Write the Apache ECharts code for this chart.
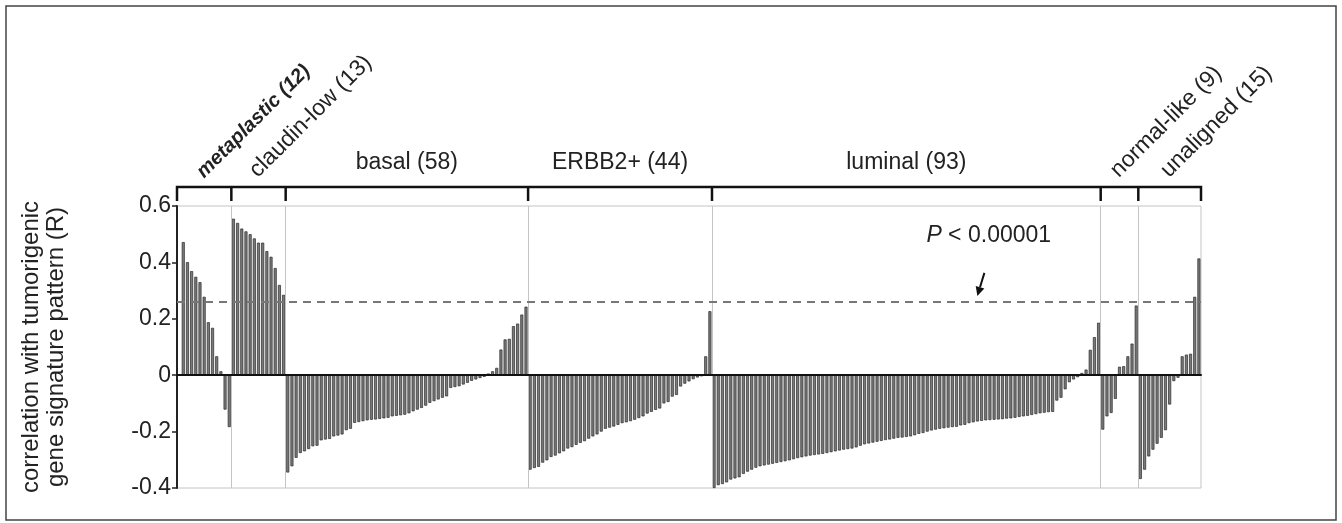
<!DOCTYPE html>
<html>
<head>
<meta charset="utf-8">
<script src="https://cdn.jsdelivr.net/npm/echarts@6/dist/echarts.min.js"></script>
<style>
  html, body { margin: 0; padding: 0; background: #fff; }
  #chart { width: 1342px; height: 523px; }
</style>
</head>
<body>
<div id="chart"></div>
<script>
// group labels, in order along the x axis
const groupNames = ['metaplastic (12)', 'claudin-low (13)', 'basal (58)', 'ERBB2+ (44)', 'luminal (93)', 'normal-like (9)', 'unaligned (15)'];

// correlation (R) per sample, sorted inside each group as in the figure
// (metaplastic starts with one empty slot)
const metaplastic = [null, 0.472, 0.401, 0.369, 0.349, 0.33, 0.278, 0.188, 0.168, 0.067, 0.014, -0.122, -0.184];
const claudinLow = [0.555, 0.54, 0.52, 0.51, 0.5, 0.485, 0.47, 0.47, 0.44, 0.42, 0.38, 0.32, 0.285];
const basal = [-0.345, -0.323, -0.293, -0.276, -0.27, -0.262, -0.252, -0.25, -0.231, -0.228, -0.226, -0.217, -0.214, -0.21, -0.195, -0.19,
  -0.169, -0.166, -0.163, -0.16, -0.158, -0.157, -0.155, -0.153, -0.151, -0.146, -0.144, -0.142, -0.14, -0.135,
  -0.128, -0.122, -0.116, -0.108, -0.098, -0.092, -0.086, -0.08, -0.075, -0.045, -0.042, -0.039, -0.033, -0.027,
  -0.02, -0.015, -0.01, -0.006, 0.006, 0.014, 0.026, 0.091, 0.127, 0.129, 0.174, 0.183, 0.215, 0.243];
const erbb2 = [-0.335, -0.329, -0.325, -0.31, -0.302, -0.29, -0.285, -0.277, -0.27, -0.26, -0.255, -0.247, -0.24, -0.234,
  -0.225, -0.217, -0.21, -0.2, -0.19, -0.186, -0.182, -0.176, -0.17, -0.167, -0.163, -0.158, -0.152, -0.146,
  -0.136, -0.13, -0.123, -0.118, -0.1, -0.095, -0.076, -0.07, -0.04, -0.03, -0.022, -0.014, -0.008, -0.004, 0.067, 0.227];
const luminal = [-0.4, -0.39, -0.386, -0.38, -0.37, -0.366, -0.362, -0.35, -0.342, -0.335, -0.328, -0.323, -0.32, -0.317,
  -0.314, -0.311, -0.308, -0.305, -0.302, -0.298, -0.294, -0.291, -0.288, -0.285, -0.283, -0.281, -0.279, -0.276,
  -0.273, -0.27, -0.267, -0.264, -0.262, -0.26, -0.256, -0.25, -0.245, -0.242, -0.239, -0.236, -0.233, -0.23,
  -0.228, -0.225, -0.222, -0.221, -0.219, -0.217, -0.213, -0.208, -0.205, -0.2, -0.196, -0.193, -0.19, -0.188,
  -0.186, -0.184, -0.183, -0.178, -0.176, -0.17, -0.167, -0.164, -0.162, -0.16, -0.159, -0.158, -0.157, -0.156,
  -0.154, -0.153, -0.151, -0.148, -0.146, -0.144, -0.141, -0.138, -0.135, -0.133, -0.131, -0.13, -0.09, -0.08,
  -0.05, -0.025, -0.015, -0.007, 0.008, 0.02, 0.09, 0.135, 0.186];
const normalLike = [-0.193, -0.146, -0.134, -0.084, 0.03, 0.032, 0.067, 0.112, 0.247];
const unaligned = [-0.368, -0.335, -0.288, -0.264, -0.243, -0.222, -0.195, -0.104, -0.021, -0.009, 0.067, 0.073, 0.076, 0.278, 0.414];

const yTicks = [-0.4, -0.2, 0, 0.2, 0.4, 0.6];
const threshold = 0.26;

const groups = [metaplastic, claudinLow, basal, erbb2, luminal, normalLike, unaligned];

// build bar points (x = slot centre) and group boundaries
const barData = [];
const bounds = [0];
let slot = 0;
groups.forEach(vals => {
  vals.forEach(v => {
    if (v !== null) barData.push([slot + 0.5, v]);
    slot++;
  });
  bounds.push(slot);
});

const font = '"Liberation Sans", Arial, sans-serif';
const chart = echarts.init(document.getElementById('chart'));

chart.setOption({
  animation: false,
  grid: { left: 177, right: 141, top: 206, bottom: 35, show: true, borderColor: '#c4c4c4', borderWidth: 1 },
  xAxis: {
    type: 'value', min: 0, max: slot, z: 5,
    axisLine: { onZero: true, lineStyle: { color: '#111', width: 2 } },
    axisTick: { show: false }, axisLabel: { show: false }, splitLine: { show: false }
  },
  yAxis: {
    type: 'value', min: yTicks[0], max: yTicks[yTicks.length - 1], interval: 0.2,
    axisLine: { show: true, lineStyle: { color: '#222', width: 2 } },
    axisTick: { show: true, length: 5, lineStyle: { color: '#222', width: 1.5 } },
    splitLine: { show: false },
    axisLabel: {
      fontSize: 23, color: '#222', fontFamily: font, margin: 6,
      formatter: v => (Math.abs(v) < 1e-9 ? '0' : v.toFixed(1))
    },
    name: 'correlation with tumorigenic\ngene signature pattern (R)',
    nameLocation: 'middle', nameRotate: 90, nameGap: 108,
    nameTextStyle: { fontSize: 24, color: '#222', fontFamily: font, lineHeight: 25 }
  },
  series: [{
    type: 'bar',
    data: barData,
    barWidth: 3,
    itemStyle: { color: '#7a7a7a', borderColor: '#2a2a2a', borderWidth: 0.7 },
    markLine: {
      silent: true, symbol: 'none', label: { show: false },
      data: bounds.slice(1, -1).map(b => ({ xAxis: b, lineStyle: { color: '#c4c4c4', width: 1, type: 'solid' } }))
        .concat([{ yAxis: threshold, lineStyle: { color: '#777', width: 2, type: [8, 6] } }])
    }
  }]
});

// bracket, group labels and annotation placed via the axes
const px = (x, y) => chart.convertToPixel({ gridIndex: 0 }, [x, y]);
const bracketY = 187, tickBottom = 201, labelY = 163;
const elements = [];

const bx = bounds.map(b => px(b, 0)[0]);
elements.push({
  type: 'polyline', shape: { points: [[bx[0], tickBottom], [bx[0], bracketY], [bx[bx.length - 1], bracketY], [bx[bx.length - 1], tickBottom]] },
  style: { stroke: '#111', lineWidth: 2.5, fill: null }
});
bx.slice(1, -1).forEach(x => elements.push({
  type: 'line', shape: { x1: x, y1: bracketY, x2: x, y2: tickBottom }, style: { stroke: '#111', lineWidth: 2.5 }
}));

const rotated = [true, true, false, false, false, true, true];
groupNames.forEach((name, i) => {
  const cx = (bx[i] + bx[i + 1]) / 2;
  if (rotated[i]) {
    elements.push({
      type: 'text', x: cx + 3, y: 182, rotation: Math.PI / 4,
      style: {
        text: name, fill: '#222',
        font: (i === 0 ? 'italic bold 20px ' : '23px ') + font,
        textAlign: 'left', align: 'left', textVerticalAlign: 'bottom', verticalAlign: 'bottom'
      }
    });
  } else {
    elements.push({
      type: 'text', x: cx, y: labelY,
      style: {
        text: name, fill: '#222', font: '23px ' + font,
        textAlign: 'center', align: 'center', textVerticalAlign: 'middle', verticalAlign: 'middle'
      }
    });
  }
});

// P-value annotation with arrow pointing at the threshold line
const tip = px(191.5, threshold);
tip[1] -= 6;
const tail = [tip[0] + 7, tip[1] - 23];
const dx = tip[0] - tail[0], dy = tip[1] - tail[1];
const len = Math.hypot(dx, dy), ux = dx / len, uy = dy / len;
const base = [tip[0] - ux * 9, tip[1] - uy * 9];
elements.push({ type: 'line', shape: { x1: tail[0], y1: tail[1], x2: base[0], y2: base[1] }, style: { stroke: '#111', lineWidth: 2 } });
elements.push({
  type: 'polygon',
  shape: { points: [tip, [base[0] - uy * 4.5, base[1] + ux * 4.5], [base[0] + uy * 4.5, base[1] - ux * 4.5]] },
  style: { fill: '#111' }
});
elements.push({
  type: 'text', x: tail[0] - 58, y: tail[1] - 37,
  style: { rich: { i: { fontStyle: 'italic', fontSize: 23, fontFamily: font, fill: '#222' }, n: { fontSize: 23, fontFamily: font, fill: '#222' } },
    text: '{i|P}{n| < 0.00001}', textVerticalAlign: 'middle', verticalAlign: 'middle' }
});

// outer frame
elements.push({ type: 'rect', shape: { x: 6, y: 6, width: 1330, height: 514 }, style: { stroke: '#444', lineWidth: 1.5, fill: null } });

chart.setOption({ graphic: { elements } });
</script>
</body>
</html>
